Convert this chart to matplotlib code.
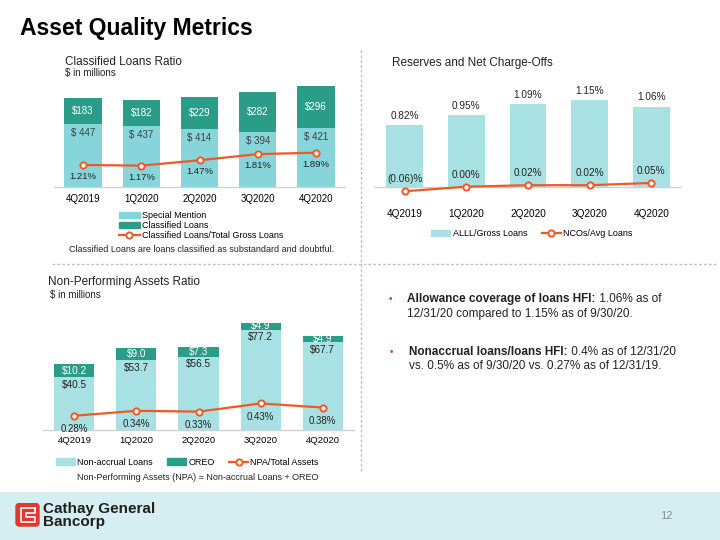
import numpy as np
import matplotlib
matplotlib.use("Agg")
import matplotlib.pyplot as plt
from matplotlib.patches import Patch, Rectangle, FancyBboxPatch
from matplotlib.lines import Line2D

plt.rcParams["font.family"] = ["Liberation Sans", "DejaVu Sans"]

# ---- data ----
quarters = ["4Q2019", "1Q2020", "2Q2020", "3Q2020", "4Q2020"]

special_mention = [447, 437, 414, 394, 421]
classified_loans = [183, 182, 229, 282, 296]
classified_ratio = [1.21, 1.17, 1.47, 1.81, 1.89]

alll_gross = [0.82, 0.95, 1.09, 1.15, 1.06]
nco_avg = [-0.06, 0.00, 0.02, 0.02, 0.05]

nonaccrual = [40.5, 53.7, 56.5, 77.2, 67.7]
oreo = [10.2, 9.0, 7.3, 4.9, 4.9]
npa_ratio = [0.28, 0.34, 0.33, 0.43, 0.38]

# ---- colours ----
LIGHT = "#86d5da"
LIGHT2 = "#a8e1e4"
TEAL = "#2a9c88"
ORANGE = "#ee5a24"
GRID = "#d0d0d0"
DARK = "#404040"
RED = "#e2382f"

W, H = 720, 540
fig = plt.figure(figsize=(W / 100, H / 100), dpi=100)


def box(x0, y0, x1, y1):
    # pixel box (top-left origin) -> figure fraction rect
    return [x0 / W, 1 - y1 / H, (x1 - x0) / W, (y1 - y0) / H]


def ftext(x, y, s, **kw):
    return fig.text(x / W, 1 - y / H, s, **kw)


def clean(ax):
    for sp in ax.spines.values():
        sp.set_visible(False)
    ax.set_yticks([])


def line_kw():
    return dict(color=ORANGE, lw=1.6, marker="o", ms=4.5, mfc="white",
                mec=ORANGE, mew=1.4, zorder=5)


x = np.arange(len(quarters))

# ---- title ----
ftext(20, 28, "Asset Quality Metrics", fontsize=16.5, fontweight="bold",
      va="center", color="black")

# ---- chart 1: classified loans ----
ax1 = fig.add_axes(box(54, 80, 345, 186.7))
ax1.bar(x, special_mention, width=0.64, color=LIGHT)
ax1.bar(x, classified_loans, bottom=special_mention, width=0.64, color=TEAL)
ax1.set_xlim(-0.5, 4.5)
ax1.set_ylim(0, 762)
clean(ax1)
ax1.axhline(0, color=GRID, lw=1, clip_on=False)
ax1.set_xticks(x, quarters)
ax1.tick_params(axis="x", length=0, pad=5, labelsize=7, labelcolor="black")
for i in range(len(x)):
    ax1.text(i, special_mention[i] + classified_loans[i] / 2, f"${classified_loans[i]}",
             ha="center", va="center", color="white", fontsize=7)
    ax1.annotate(f"$ {special_mention[i]}", (i, special_mention[i]), xytext=(0, -3),
                 textcoords="offset points", ha="center", va="top", color=DARK, fontsize=7)
ax1b = ax1.twinx()
ax1b.set_ylim(0, 5.93)
clean(ax1b)
ax1b.plot(x, classified_ratio, **line_kw())
for i, v in enumerate(classified_ratio):
    ax1b.annotate(f"{v:.2f}%", (i, v), xytext=(0, -5), textcoords="offset points",
                  ha="center", va="top", color="#222222", fontsize=6.8)

ftext(65, 62, "Classified Loans Ratio", fontsize=8.5, va="center", color="#222222")
ftext(65, 73, "$ in millions", fontsize=7, va="center", color="#222222")
fig.legend(handles=[Patch(color=LIGHT, label="Special Mention"),
                    Patch(color=TEAL, label="Classified Loans"),
                    Line2D([], [], label="Classified Loans/Total Gross Loans", **line_kw())],
           loc="upper left", bbox_to_anchor=(119 / W, 1 - 211 / H), frameon=False,
           fontsize=6.5, labelspacing=0.12, handlelength=2.3, handleheight=0.7,
           handletextpad=0.2, borderpad=0, borderaxespad=0)
ftext(202, 249, "Classified Loans are loans classified as substandard and doubtful.",
      fontsize=6.5, ha="center", va="center", color="#222222")

# ---- chart 2: reserves and NCOs ----
ax2 = fig.add_axes(box(374, 80, 682, 200))
ax2.bar(x, alll_gross, width=0.6, color=LIGHT2)
ax2.plot(x, nco_avg, **line_kw())
ax2.set_xlim(-0.5, 4.5)
ax2.set_ylim(-0.176, 1.413)
clean(ax2)
ax2.axhline(0, color=GRID, lw=1, zorder=1)
ax2.set_xticks(x, quarters)
ax2.tick_params(axis="x", length=0, pad=6.5, labelsize=7.2, labelcolor="black")
for i in range(len(x)):
    ax2.annotate(f"{alll_gross[i]:.2f}%", (i, alll_gross[i]), xytext=(0, 3),
                 textcoords="offset points", ha="center", va="bottom",
                 color="#222222", fontsize=7.2)
    v = nco_avg[i]
    s = f"({abs(v):.2f})%" if v < 0 else f"{v:.2f}%"
    ax2.annotate(s, (i, v), xytext=(0, 5), textcoords="offset points",
                 ha="center", va="bottom", color="#222222", fontsize=7.2)
ftext(392, 63, "Reserves and Net Charge-Offs", fontsize=8.5, va="center", color="#222222")
fig.legend(handles=[Patch(color=LIGHT2, label="ALLL/Gross Loans"),
                    Line2D([], [], label="NCOs/Avg Loans", **line_kw())],
           loc="center left", bbox_to_anchor=(431 / W, 1 - 233.5 / H), frameon=False,
           ncol=2, fontsize=6.5, handlelength=2.1, handleheight=0.7,
           handletextpad=0.3, columnspacing=1.6, borderpad=0, borderaxespad=0)

# ---- chart 3: non-performing assets ----
ax3 = fig.add_axes(box(43.3, 310, 353.7, 430))
ax3.bar(x, nonaccrual, width=0.645, color=LIGHT2)
ax3.bar(x, oreo, bottom=nonaccrual, width=0.645, color=TEAL)
ax3.set_xlim(-0.5, 4.5)
ax3.set_ylim(0, 92.3)
clean(ax3)
ax3.axhline(0, color=GRID, lw=1, clip_on=False)
ax3.set_xticks(x, quarters)
ax3.tick_params(axis="x", length=0, pad=4.5, labelsize=6.8, labelcolor="black")
for i in range(len(x)):
    ax3.text(i, nonaccrual[i] + oreo[i] / 2, f"${oreo[i]:.1f}", ha="center",
             va="center", color="white", fontsize=7.2)
    ax3.annotate(f"${nonaccrual[i]:.1f}", (i, nonaccrual[i]), xytext=(0, -2),
                 textcoords="offset points", ha="center", va="top",
                 color="#222222", fontsize=7.2)
ax3b = ax3.twinx()
ax3b.set_ylim(0.106, 1.57)
clean(ax3b)
ax3b.plot(x, npa_ratio, **line_kw())
for i, v in enumerate(npa_ratio):
    ax3b.annotate(f"{v:.2f}%", (i, v), xytext=(0, -6), textcoords="offset points",
                  ha="center", va="top", color="#222222", fontsize=7)
ftext(48, 281.7, "Non-Performing Assets Ratio", fontsize=8.5, va="center", color="#222222")
ftext(50, 295, "$ in millions", fontsize=7, va="center", color="#222222")
fig.legend(handles=[Patch(color=LIGHT2, label="Non-accrual Loans"),
                    Patch(color=TEAL, label="OREO"),
                    Line2D([], [], label="NPA/Total Assets", **line_kw())],
           loc="center left", bbox_to_anchor=(56 / W, 1 - 462.3 / H), frameon=False,
           ncol=3, fontsize=6.5, handlelength=2.1, handleheight=0.7,
           handletextpad=0.25, columnspacing=1.6, borderpad=0, borderaxespad=0)
ftext(198, 477.7, "Non-Performing Assets (NPA) = Non-accrual Loans + OREO",
      fontsize=6.5, ha="center", va="center", color="#222222")

# ---- dashed separators ----
fig.add_artist(Line2D([361 / W, 361 / W], [1 - 50 / H, 1 - 472 / H], color="#c0c0c0",
                      lw=1, ls=(0, (2, 1.5))))
fig.add_artist(Line2D([52 / W, 716 / W], [1 - 264 / H, 1 - 264 / H], color="#c0c0c0",
                      lw=1, ls=(0, (2, 1.5))))

# ---- bullet notes ----
bullets = [
    (390, 407, 299.3, "Allowance coverage of loans HFI:", " 1.06% as of",
     "12/31/20 compared to 1.15% as of 9/30/20."),
    (391, 409, 351.7, "Nonaccrual loans/loans HFI:", " 0.4% as of 12/31/20",
     "vs. 0.5% as of 9/30/20 vs. 0.27% as of 12/31/19."),
]
pairs = []
for bx, tx, ty, bold, rest, line2 in bullets:
    ftext(bx, ty, "\u2022", color=RED, fontsize=7, va="center", ha="center")
    tb = ftext(tx, ty, bold, fontsize=8.5, fontweight="bold", va="center", color="#222222")
    tr = ftext(tx, ty, rest, fontsize=8.5, va="bottom", color="#222222")
    pairs.append((tb, tr))
    ftext(tx, ty + 14.5, line2, fontsize=8.5, va="center", color="#222222")

# put the regular part of each line right after its bold part
fig.canvas.draw()
renderer = fig.canvas.get_renderer()
for tb, tr in pairs:
    bb = tb.get_window_extent(renderer).transformed(fig.transFigure.inverted())
    tr.set_position((bb.x1, bb.y0))

# ---- footer ----
fig.add_artist(Rectangle((0, 0), 1, (540 - 492) / H, transform=fig.transFigure,
                         color="#d5eef1", zorder=0))
axl = fig.add_axes(box(15, 502.5, 40, 527))
axl.set_xlim(0, 1)
axl.set_ylim(0, 1)
axl.axis("off")
axl.add_patch(FancyBboxPatch((0.04, 0.04), 0.92, 0.92,
                             boxstyle="round,pad=0,rounding_size=0.14", color=RED))
axl.plot([0.8, 0.22, 0.22, 0.8, 0.8, 0.42, 0.42, 0.8, 0.8],
         [0.78, 0.78, 0.22, 0.22, 0.42, 0.42, 0.58, 0.58, 0.78], color="white", lw=1.2)
ftext(43, 508.5, "Cathay General", fontsize=11, fontweight="bold", va="center",
      color="#231f20")
ftext(43, 522, "Bancorp", fontsize=11, fontweight="bold", va="center", color="#231f20")
ftext(660, 516, "12", fontsize=8, va="center", color="#8c8c8c")

fig.savefig("out.png", dpi=100)
